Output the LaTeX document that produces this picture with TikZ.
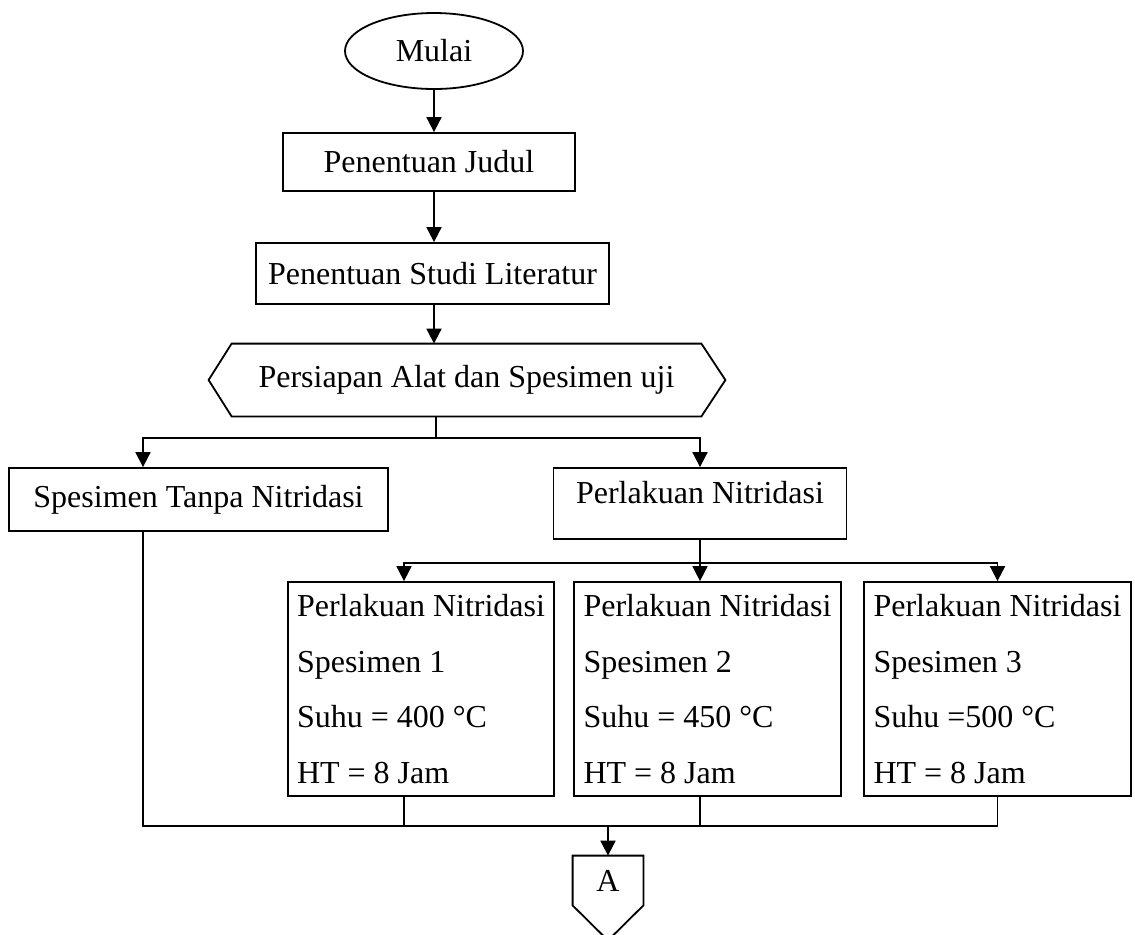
\documentclass[tikz,border=0pt]{standalone}
\usepackage{fontspec}
\setmainfont{Liberation Serif}
\usetikzlibrary{shapes.geometric,arrows.meta}

\tikzset{
	box/.style = {draw, rectangle, line width=0.9pt, inner sep=0pt},
	arr/.style = {-{Triangle[length=7.5pt,width=7.5pt]}, line width=0.9pt},
	wire/.style = {line width=0.9pt}
}

\begin{document}
\begin{tikzpicture}[x=0.5pt, y=-0.5pt, font=\fontsize{16}{27.75}\selectfont]
		\useasboundingbox (0,0) rectangle (1135,934);

		% start
		\node [ellipse, draw, line width=0.9pt, minimum width=89pt, minimum height=38pt] (mulai) at (434,51) {Mulai};

		% main column
		\node [box, minimum width=146pt, minimum height=29pt] (judul) at (429,162) {Penentuan Judul};
		\node [box, minimum width=176.5pt, minimum height=30.5pt] (studi) at (432.5,273.5) {Penentuan Studi Literatur};

		% preparation, hexagon drawn round the node
		\node [inner sep=0pt, minimum width=234.5pt, minimum height=36pt] (persiapan) at (466.5,380) {Persiapan Alat dan Spesimen uji};
		\draw [wire] (persiapan.north west) -- (persiapan.north east) -- ([xshift=12pt]persiapan.east) -- (persiapan.south east) -- (persiapan.south west) -- ([xshift=-11.5pt]persiapan.west) -- cycle;

		% two branches
		\node [box, minimum width=189.5pt, minimum height=31.5pt] (tanpa) at (198.5,499.5) {Spesimen Tanpa Nitridasi};
		\node [box, minimum width=146.5pt, minimum height=35.5pt, text depth=11pt] (nitridasi) at (700,503.5) {Perlakuan Nitridasi};

		% three treatment boxes
		\node [box, align=left, minimum width=133pt, minimum height=107pt] (spes1) at (421,689) {Perlakuan Nitridasi\\Spesimen 1\\Suhu = 400 °C\\HT = 8 Jam};
		\node [box, align=left, minimum width=133.5pt, minimum height=107pt] (spes2) at (707.5,689) {Perlakuan Nitridasi\\Spesimen 2\\Suhu = 450 °C\\HT = 8 Jam};
		\node [box, align=left, minimum width=133.5pt, minimum height=107pt] (spes3) at (997.5,689) {Perlakuan Nitridasi\\Spesimen 3\\Suhu =500 °C\\HT = 8 Jam};

		% off-page connector
		\node [minimum width=35pt, minimum height=24.5pt, inner sep=0pt] (konektor) at (608,880.5) {A};
		\draw [wire] (konektor.north west) -- (konektor.north east) -- (konektor.south east) -- ([yshift=-17.5pt]konektor.south) -- (konektor.south west) -- cycle;

		% bus points
		\coordinate (bus1) at (436,438);
		\coordinate (bus2) at (700,563);
		\coordinate (bus3) at (608,826);

		% arrows down the main column
		\draw [arr] (mulai.south) -- (mulai.south |- judul.north);
		\draw [arr] (judul.south -| mulai.south) -- (studi.north -| mulai.south);
		\draw [arr] (studi.south -| mulai.south) -- (persiapan.north -| mulai.south);

		% split under the hexagon
		\draw [wire] (persiapan.south -| bus1) -- (bus1);
		\draw [arr] (bus1) -| ([xshift=-27.75pt]tanpa.north);
		\draw [arr] (bus1) -| (nitridasi.north);

		% split under the treatment
		\draw [wire] (nitridasi.south) -- (bus2);
		\draw [arr] (bus2) -| ([xshift=-8.5pt]spes1.north);
		\draw [arr] (bus2) -- ([xshift=-3.75pt]spes2.north);
		\draw [arr] (bus2) -| (spes3.north);

		% join at the bottom
		\draw [wire] ([xshift=-27.75pt]tanpa.south) |- (bus3) -| (spes3.south);
		\draw [wire] ([xshift=-8.5pt]spes1.south) -- ([xshift=-8.5pt]spes1.south |- bus3);
		\draw [wire] ([xshift=-3.75pt]spes2.south) -- ([xshift=-3.75pt]spes2.south |- bus3);
		\draw [arr] (bus3) -- (konektor.north);
	\end{tikzpicture}
\end{document}
